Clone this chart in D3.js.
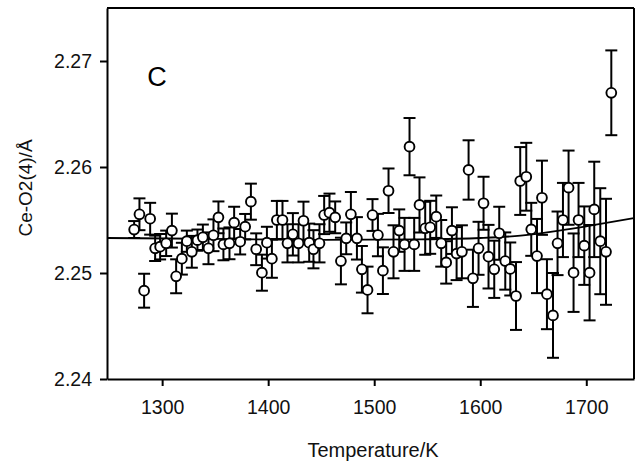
<!DOCTYPE html>
<html><head><meta charset="utf-8">
<script src="https://cdn.jsdelivr.net/npm/d3@7"></script>
<style>body{margin:0;background:#fff}svg{display:block}text{font-family:"Liberation Sans",Arial,sans-serif}</style>
</head><body>
<svg id="c" width="637" height="463"></svg>
<script>
const temps = [1273.6,1278.6,1283.0,1288.7,1293.4,1298.1,1303.8,1309.2,1313.2,1318.6,1323.3,1328.0,1333.3,1338.4,1343.7,1348.4,1353.1,1357.8,1363.5,1367.9,1373.6,1378.3,1383.7,1388.7,1394.1,1398.8,1403.5,1408.2,1413.5,1418.2,1423.3,1428.6,1433.3,1438.7,1442.7,1448.4,1452.8,1457.8,1463.2,1468.6,1473.6,1478.0,1483.7,1488.4,1493.7,1498.4,1503.5,1508.2,1513.5,1518.2,1523.6,1528.6,1533.3,1537.7,1542.7,1548.1,1552.8,1558.5,1563.2,1567.9,1573.3,1577.7,1582.7,1589.0,1593.1,1598.4,1603.1,1607.8,1613.2,1617.9,1623.6,1628.3,1633.7,1637.7,1643.4,1648.1,1653.5,1658.2,1662.9,1668.6,1672.9,1678.0,1683.3,1688.0,1692.7,1698.1,1703.1,1707.5,1713.2,1718.6,1723.6];
const values = [2.2541,2.25554,2.24833,2.25512,2.25233,2.25248,2.2528,2.2540,2.24969,2.25135,2.2530,2.2520,2.2531,2.25337,2.25233,2.25356,2.25525,2.2527,2.2528,2.25475,2.25295,2.25437,2.25673,2.25224,2.25003,2.25286,2.25135,2.2550,2.2550,2.2528,2.25365,2.2528,2.25493,2.25286,2.25224,2.2528,2.25547,2.25569,2.25525,2.25113,2.25327,2.25554,2.25327,2.25035,2.2484,2.25547,2.25358,2.25022,2.25776,2.2520,2.2540,2.2527,2.26192,2.2527,2.25642,2.25422,2.25431,2.25531,2.2528,2.2510,2.2540,2.25183,2.2520,2.25972,2.2495,2.25233,2.25658,2.25154,2.25035,2.25375,2.25113,2.25038,2.24783,2.25868,2.25908,2.25412,2.2516,2.2571,2.2480,2.2460,2.2528,2.2550,2.25805,2.25003,2.2550,2.25258,2.25003,2.2560,2.2530,2.2520,2.2670];
const errors = [0.0008,0.0015,0.0016,0.0015,0.0012,0.0012,0.0012,0.0016,0.0016,0.0015,0.0010,0.0015,0.0010,0.0012,0.0015,0.0015,0.0015,0.0015,0.0015,0.0015,0.0012,0.0012,0.0017,0.0015,0.0017,0.0015,0.0018,0.0018,0.0018,0.0018,0.0020,0.0018,0.0018,0.0018,0.0018,0.0018,0.0018,0.0018,0.0015,0.0022,0.0015,0.0021,0.0020,0.0022,0.0022,0.0015,0.0020,0.0022,0.0021,0.0025,0.0020,0.0025,0.0027,0.0025,0.0026,0.0025,0.0025,0.0020,0.0022,0.0020,0.0022,0.0025,0.0025,0.0028,0.0027,0.0025,0.0025,0.0030,0.0027,0.0025,0.0027,0.0025,0.0032,0.0032,0.0032,0.0025,0.0035,0.0035,0.0033,0.0040,0.0030,0.0035,0.0035,0.0037,0.0035,0.0037,0.0045,0.0045,0.0050,0.0050,0.0040];
const fitT = [1248,1350,1450,1543,1600,1638,1676,1701,1745];
const fitV = [2.2533,2.25322,2.25313,2.25318,2.2533,2.25352,2.25402,2.25442,2.25518];
const xTicks = [1300,1400,1500,1600,1700];
const yTicks = [2.24,2.25,2.26,2.27];
const xLabel = "Temperature/K";
const yLabel = "Ce-O2(4)/Å";
const panelLabel = "C";

const svg = d3.select("#c");
const L=107,R=634,T=8,B=379;
const x = d3.scaleLinear().domain([1248,1745]).range([L,R]);
const y = d3.scaleLinear().domain([2.24,2.275]).range([B,T]);

svg.append("line").attr("x1",L).attr("x2",R).attr("y1",T).attr("y2",T).attr("stroke","#000").attr("stroke-width",2);
svg.append("line").attr("x1",R).attr("x2",R).attr("y1",T).attr("y2",B).attr("stroke","#000").attr("stroke-width",2);

const xa = svg.append("g").attr("transform",`translate(0,${B})`)
  .call(d3.axisBottom(x).tickValues(xTicks).tickFormat(d3.format("d")).tickSizeOuter(0).tickSizeInner(7).tickPadding(14));
const ya = svg.append("g").attr("transform",`translate(${L},0)`)
  .call(d3.axisLeft(y).tickValues(yTicks).tickFormat(d3.format(".2f")).tickSizeOuter(0).tickSizeInner(7).tickPadding(8));
[xa,ya].forEach(g=>{
  g.select(".domain").attr("stroke-width",2);
  g.selectAll(".tick line").attr("stroke-width",2);
  g.selectAll("text").attr("font-size",19.5).attr("fill","#111");
});

svg.append("clipPath").attr("id","pc").append("rect").attr("x",L).attr("y",T).attr("width",R-L).attr("height",B-T);
const fitData = fitT.map((t,i)=>[t,fitV[i]]);
svg.append("path").datum(fitData).attr("clip-path","url(#pc)")
  .attr("d",d3.line().x(d=>x(d[0])).y(d=>y(d[1])).curve(d3.curveMonotoneX))
  .attr("fill","none").attr("stroke","#000").attr("stroke-width",1.8);

const data = temps.map((t,i)=>({t,v:values[i],e:errors[i]}));
const eb = svg.append("g").attr("stroke","#000").attr("stroke-width",2);
data.forEach(d=>{
  const cx=x(d.t), y1=y(d.v+d.e), y2=y(d.v-d.e);
  eb.append("line").attr("x1",cx).attr("x2",cx).attr("y1",y1).attr("y2",y2);
  eb.append("line").attr("x1",cx-6).attr("x2",cx+6).attr("y1",y1).attr("y2",y1);
  eb.append("line").attr("x1",cx-6).attr("x2",cx+6).attr("y1",y2).attr("y2",y2);
});
svg.append("g").selectAll("circle").data(data).join("circle")
  .attr("cx",d=>x(d.t)).attr("cy",d=>y(d.v)).attr("r",4.9)
  .attr("fill","#fff").attr("stroke","#000").attr("stroke-width",1.9);

svg.append("text").attr("x",373).attr("y",457).attr("text-anchor","middle").attr("font-size",20).attr("fill","#111").text(xLabel);
svg.append("text").attr("transform","translate(32,188) rotate(-90)").attr("text-anchor","middle").attr("font-size",19).attr("fill","#111").text(yLabel);
svg.append("text").attr("x",157).attr("y",86).attr("text-anchor","middle").attr("font-size",27).attr("fill","#000").text(panelLabel);
</script>
</body></html>
